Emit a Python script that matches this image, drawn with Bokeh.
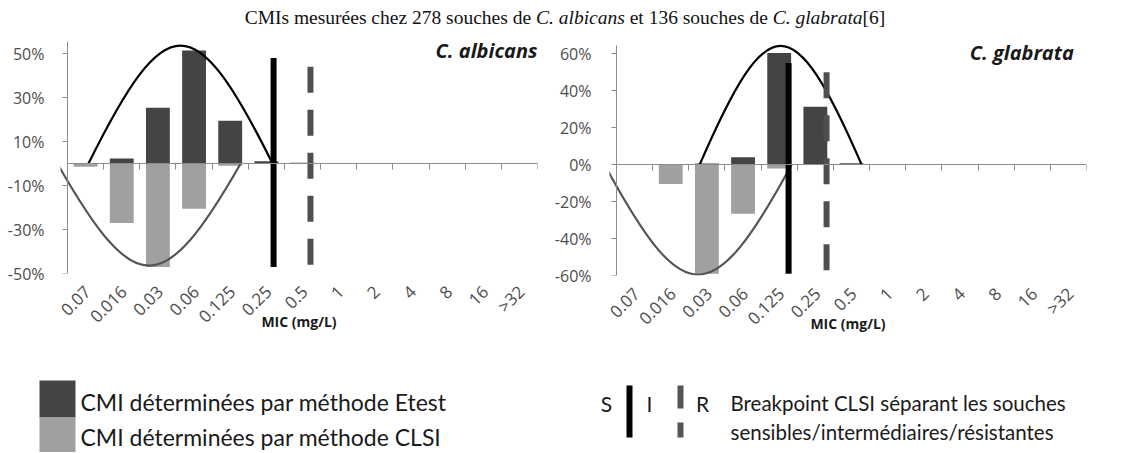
import math
from bokeh.plotting import figure
from bokeh.models import (Range1d, LinearAxis, FixedTicker, NumeralTickFormatter,
                          CustomJSTickFormatter, ColumnDataSource, Label, Div)
from bokeh.layouts import column, row
from bokeh.embed import file_html
from bokeh.resources import INLINE
from bokeh.core.properties import value

# ---------------- data ----------------
categories = ["0.07", "0.016", "0.03", "0.06", "0.125", "0.25", "0.5",
              "1", "2", "4", "8", "16", ">32"]

alb_etest = [0.0, 0.023, 0.254, 0.514, 0.195, 0.010, 0.004, 0, 0, 0, 0, 0, 0]
alb_clsi = [-0.015, -0.270, -0.470, -0.206, -0.010, 0, 0, 0, 0, 0, 0, 0, 0]
gla_etest = [0.0, 0.0, 0.007, 0.040, 0.605, 0.314, 0.008, 0, 0, 0, 0, 0, 0]
gla_clsi = [0.0, -0.105, -0.590, -0.265, -0.020, 0, 0, 0, 0, 0, 0, 0, 0]

# breakpoints: position (category units), top, bottom
alb_bp_S = (5.70, 0.48, -0.47)
alb_bp_R = (6.72, 0.44, -0.48)
gla_bp_S = (4.76, 0.55, -0.59)
gla_bp_R = (5.81, 0.50, -0.59)

# bell curves: start, end, peak value
alb_curve_etest = (0.58, 5.67, 0.536)
alb_curve_clsi = (-0.28, 4.79, -0.464)
gla_curve_etest = (2.30, 6.78, 0.643)
gla_curve_clsi = (-0.33, 4.84, -0.595)

alb_yticks = [-0.5, -0.3, -0.1, 0.1, 0.3, 0.5]
gla_yticks = [-0.6, -0.4, -0.2, 0.0, 0.2, 0.4, 0.6]

DARK = "#444444"
LIGHT = "#a0a0a0"
AXIS = "#8c8c8c"
LABEL = "#4d4d4d"
EMPTY = CustomJSTickFormatter(code="return ''")


def make_chart(etest, clsi, bp_s, bp_r, curve_up, curve_down, yticks, yr, ybounds,
               species, species_xy, bl, br, bt, bb, fh, ystand):
    n = len(categories)
    p = figure(frame_width=477, frame_height=fh,
               x_range=Range1d(-0.194, n), y_range=Range1d(*yr),
               min_border_left=bl, min_border_right=br,
               min_border_top=bt, min_border_bottom=bb,
               toolbar_location=None, output_backend="svg",
               x_axis_location=None, y_axis_location=None)
    p.outline_line_color = None
    p.xgrid.visible = False
    p.ygrid.visible = False

    # y tick labels (at frame edge)
    ylab = LinearAxis(ticker=FixedTicker(ticks=yticks),
                      formatter=NumeralTickFormatter(format="0%"),
                      axis_line_color=None, major_tick_line_color=None,
                      minor_tick_line_color=None,
                      major_label_text_font="Open Sans",
                      major_label_text_font_size="16px",
                      major_label_text_color=LABEL,
                      major_label_standoff=ystand)
    p.add_layout(ylab, "left")
    # y axis line and ticks at x = 0
    yax = LinearAxis(ticker=FixedTicker(ticks=yticks), formatter=EMPTY,
                     fixed_location=0, bounds=ybounds,
                     axis_line_color=AXIS, major_tick_line_color=AXIS,
                     major_tick_out=5, major_tick_in=0,
                     minor_tick_line_color=None,
                     major_label_text_font_size="1px",
                     major_label_standoff=0)
    p.add_layout(yax, "left")

    # x axis line at y = 0 with ticks at category boundaries
    xb = LinearAxis(ticker=FixedTicker(ticks=list(range(n + 1))), formatter=EMPTY,
                    fixed_location=0, bounds=(0, n),
                    axis_line_color=AXIS, major_tick_line_color=AXIS,
                    major_tick_in=6, major_tick_out=0,
                    minor_tick_line_color=None,
                    major_label_text_font_size="1px",
                    major_label_standoff=0)
    p.add_layout(xb, "above")

    # category labels at the bottom
    centers = [i + 0.5 for i in range(n)]
    lpos = [c + 0.05 for c in centers]
    lab = LinearAxis(ticker=FixedTicker(ticks=lpos),
                     major_label_overrides={c: t for c, t in zip(lpos, categories)},
                     major_label_orientation=math.pi / 4,
                     axis_line_color=None, major_tick_line_color=None,
                     minor_tick_line_color=None,
                     major_label_text_font="Open Sans",
                     major_label_text_font_size="17px",
                     major_label_text_color=LABEL,
                     major_label_standoff=9,
                     axis_label="MIC (mg/L)",
                     axis_label_text_font="Open Sans",
                     axis_label_text_font_style="bold",
                     axis_label_text_font_size="14px",
                     axis_label_text_color="#1a1a1a",
                     axis_label_standoff=-26)
    p.add_layout(lab, "below")

    src = ColumnDataSource(dict(x=centers, etest=etest, clsi=clsi))
    p.vbar(x="x", top="etest", bottom=0, width=0.66, source=src,
           fill_color=DARK, line_color=None)
    p.vbar(x="x", top=0, bottom="clsi", width=0.66, source=src,
           fill_color=LIGHT, line_color=None)

    # bell curves (cubic bezier approximating a half sine arch)
    for (x0, x1, h), col in ((curve_down, "#555555"), (curve_up, "#000000")):
        w = x1 - x0
        a = w * 0.424
        c = h * 4.0 / 3.0
        csrc = ColumnDataSource(dict(x0=[x0], y0=[0], x1=[x1], y1=[0],
                                     cx0=[x0 + a], cy0=[c], cx1=[x1 - a], cy1=[c]))
        p.bezier(x0="x0", y0="y0", x1="x1", y1="y1", cx0="cx0", cy0="cy0",
                 cx1="cx1", cy1="cy1", source=csrc, line_color=col, line_width=2.2)

    # breakpoints
    p.segment(x0=[bp_s[0]], y0=[bp_s[1]], x1=[bp_s[0]], y1=[bp_s[2]],
              line_color="#000000", line_width=6, line_cap="butt")
    p.segment(x0=[bp_r[0]], y0=[bp_r[1]], x1=[bp_r[0]], y1=[bp_r[2]],
              line_color="#4f4f4f", line_width=6, line_cap="butt",
              line_dash="26 17")

    p.add_layout(Label(x=species_xy[0], y=species_xy[1], text=species,
                       text_font="Open Sans", text_font_style="bold italic",
                       text_font_size="20px", text_align="right",
                       text_baseline="middle", text_color="#1a1a1a"))
    return p


p1 = make_chart(alb_etest, alb_clsi, alb_bp_S, alb_bp_R,
                alb_curve_etest, alb_curve_clsi, alb_yticks,
                (-0.5, 0.555), (-0.5, 0.555),
                "C. albicans", (13.0, 0.514),
                bl=60, br=14, bt=5, bb=67, fh=232, ystand=10)
p2 = make_chart(gla_etest, gla_clsi, gla_bp_S, gla_bp_R,
                gla_curve_etest, gla_curve_clsi, gla_yticks,
                (-0.6, 0.667), (-0.6, 0.645),
                "C. glabrata", (12.65, 0.61),
                bl=54, br=48, bt=5, bb=65, fh=234, ystand=12)

title = Div(text="<div style=\"text-align:center;font-family:'Liberation Serif';"
                 "font-size:19.5px;line-height:36px;color:#111;width:1130px;\">"
                 "CMIs mesurées chez 278 souches de <i>C. albicans</i> et 136 souches de "
                 "<i>C. glabrata</i>[6]</div>",
            width=1130, height=36, margin=(0, 0, 0, 0))

# legend panel (page pixel coordinates)
lg = figure(frame_width=1130, frame_height=112,
            x_range=Range1d(0, 1130), y_range=Range1d(452, 340),
            min_border=0, toolbar_location=None, output_backend="svg",
            x_axis_location=None, y_axis_location=None)
lg.outline_line_color = None
lg.xgrid.visible = False
lg.ygrid.visible = False

legend_labels = ["CMI déterminées par méthode Etest", "CMI déterminées par méthode CLSI"]
legend_colors = [DARK, LIGHT]
lg.quad(left=[39, 39], right=[75, 75], top=[380, 417], bottom=[417, 454],
        fill_color=legend_colors, line_color=None)
lg.text(x=[80, 80], y=[401, 436], text=legend_labels,
        text_font=value("Lato"), text_font_size="23px",
        text_baseline="middle", text_color="#1a1a1a")

bp_letters = ["S", "I", "R"]
lg.text(x=[606, 649, 702], y=[403, 403, 403], text=bp_letters,
        text_font=value("Lato"), text_font_size="21px", text_align="center",
        text_baseline="middle", text_color="#1a1a1a")
lg.quad(left=[626], right=[632], top=[385], bottom=[437], fill_color="#000000", line_color=None)
lg.quad(left=[677, 677], right=[683, 683], top=[385, 422], bottom=[408, 437],
        fill_color="#555555", line_color=None)
bp_text = ["Breakpoint CLSI séparant les souches", "sensibles/intermédiaires/résistantes"]
lg.text(x=[730, 730], y=[402, 431], text=bp_text,
        text_font=value("Lato"), text_font_size="20.5px",
        text_baseline="middle", text_color="#1a1a1a")

layout = column(title, row(p1, p2), lg)
open("out.html", "w").write(file_html(layout, INLINE))
